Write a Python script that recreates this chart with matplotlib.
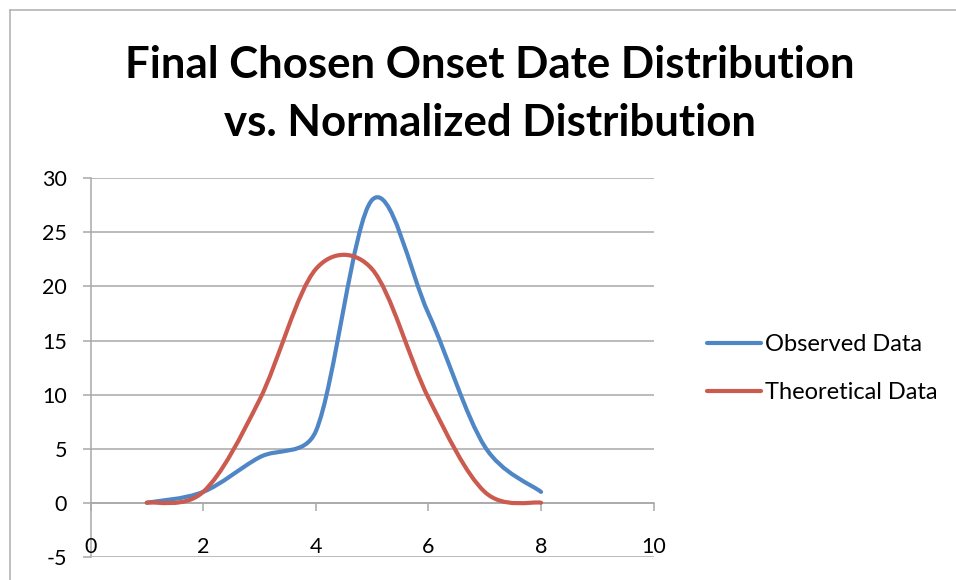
import numpy as np
import matplotlib
matplotlib.use("Agg")
import matplotlib.pyplot as plt
from matplotlib.path import Path
from matplotlib.patches import PathPatch
from matplotlib.lines import Line2D

# ---- data ----
x_vals = [1, 2, 3, 4, 5, 6, 7, 8]
observed = [0, 1.0, 4.2, 6.6, 28.0, 17.5, 5.2, 1.0]
theoretical = [0, 1.0, 9.5, 21.6, 21.6, 9.7, 1.0, 0]
series_names = ["Observed Data", "Theoretical Data"]
x_ticks = [0, 2, 4, 6, 8, 10]
y_ticks = [-5, 0, 5, 10, 15, 20, 25, 30]
title_lines = ["Final Chosen Onset Date Distribution", "vs. Normalized Distribution"]

BLUE = "#4F86C5"
RED = "#CB5A4F"
GRID = "#A8A8A8"

plt.rcParams['font.family'] = ['Lato', 'DejaVu Sans']

W, H = 956, 580
AX_L, AX_R, AX_T, AX_B = 90.5, 653.7, 178.3, 556.8
XMIN, XMAX, YMIN, YMAX = 0, 10, -5, 30
SX = (AX_R - AX_L) / (XMAX - XMIN)
SY = (AX_B - AX_T) / (YMAX - YMIN)
CAP = 0.45


def smooth_path(xs, ys):
    """Excel-like smoothed line: Catmull-Rom Bezier segments whose control
    offsets are capped relative to the on-screen segment length."""
    P = np.column_stack([np.asarray(xs, float), np.asarray(ys, float)])
    S = np.array([SX, SY])
    n = len(P)

    def plen(v):
        return np.hypot(*(v * S))

    def capped(off, seg):
        L = plen(off)
        lim = CAP * plen(seg)
        if L > lim and L > 0:
            off = off * lim / L
        return off

    verts = [P[0]]
    codes = [Path.MOVETO]
    for i in range(n - 1):
        p0 = P[i - 1] if i > 0 else P[i]
        p1 = P[i]
        p2 = P[i + 1]
        p3 = P[i + 2] if i + 2 < n else P[i + 1]
        seg = p2 - p1
        c1 = p1 + capped((p2 - p0) / 6.0, seg)
        c2 = p2 - capped((p3 - p1) / 6.0, seg)
        verts += [c1, c2, p2]
        codes += [Path.CURVE4] * 3
    return Path(verts, codes)


fig = plt.figure(figsize=(9.56, 5.80), dpi=100)
ax = fig.add_axes([AX_L / W, (H - AX_B) / H, (AX_R - AX_L) / W, (AX_B - AX_T) / H])

ax.set_xlim(XMIN, XMAX)
ax.set_ylim(YMIN, YMAX)

for ys, col in [(observed, BLUE), (theoretical, RED)]:
    patch = PathPatch(smooth_path(x_vals, ys), facecolor='none', edgecolor=col,
                      lw=3.0, capstyle='round', joinstyle='round', zorder=3)
    ax.add_patch(patch)

# grid
ax.set_yticks(y_ticks)
ax.set_yticklabels([str(v) for v in y_ticks])
for v in y_ticks:
    ax.axhline(v, color=GRID, lw=1.1, zorder=1)

# spines
for s in ['top', 'right']:
    ax.spines[s].set_visible(False)
ax.spines['left'].set_color(GRID)
ax.spines['left'].set_linewidth(1.1)
ax.spines['bottom'].set_position(('data', 0))
ax.spines['bottom'].set_color(GRID)
ax.spines['bottom'].set_linewidth(1.1)

ax.set_xticks(x_ticks)
ax.set_xticklabels([])
ax.tick_params(axis='x', direction='out', length=5.8, width=1.1, color=GRID)
ax.tick_params(axis='y', direction='out', length=5.8, width=1.1, color=GRID,
               pad=11, labelsize=15.5, labelcolor='black')

xt = ax.get_xaxis_transform()
for v in x_ticks:
    ax.text(v, 0.026, str(v), transform=xt, ha='center', va='center',
            fontsize=15.5, color='black', zorder=4)

# title
fig.text(489.5 / W, 1 - 65 / H, title_lines[0], ha='center', va='center',
         fontsize=31.5, fontweight='bold')
fig.text(489.5 / W, 1 - 123 / H, title_lines[1], ha='center', va='center',
         fontsize=31.5, fontweight='bold')

# legend
handles = [Line2D([], [], color=BLUE, lw=3.0, solid_capstyle='round'),
           Line2D([], [], color=RED, lw=3.0, solid_capstyle='round')]
fig.legend(handles, series_names, loc='center left',
           bbox_to_anchor=(707 / W, 1 - 368.5 / H), frameon=False,
           fontsize=17, handlelength=2.3, handletextpad=0.17,
           borderpad=0, borderaxespad=0, labelspacing=1.15)

# chart border (crop of a framed chart)
bx = 9.5 / W
by = 1 - 10 / H
fig.add_artist(Line2D([bx, 1], [by, by], transform=fig.transFigure, color='#B4B4B4', lw=1.2))
fig.add_artist(Line2D([bx, bx], [0, by], transform=fig.transFigure, color='#B4B4B4', lw=1.2))

fig.savefig("out.png", dpi=100)
